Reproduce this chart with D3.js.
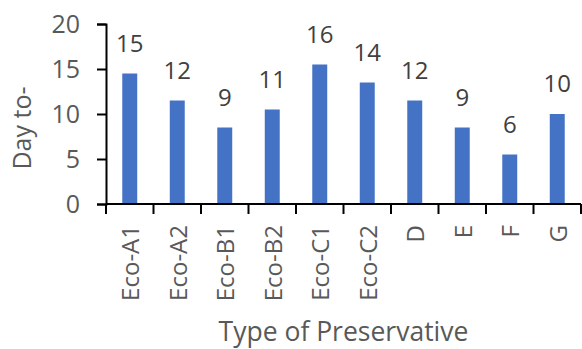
<!DOCTYPE html>
<html>
<head>
<meta charset="utf-8">
<script src="https://cdn.jsdelivr.net/npm/d3@7"></script>
<style>
  html, body { margin: 0; padding: 0; background: #fff; }
  svg { display: block; font-family: "Open Sans", sans-serif; }
</style>
</head>
<body>
<svg id="chart" width="582" height="349"></svg>
<script>
// Days per preservative type
const categories = ["Eco-A1", "Eco-A2", "Eco-B1", "Eco-B2", "Eco-C1", "Eco-C2", "D", "E", "F", "G"];
const days = [14.5, 11.5, 8.5, 10.5, 15.5, 13.5, 11.5, 8.5, 5.5, 10];
const yTicks = [0, 5, 10, 15, 20];
const xTitle = "Type of Preservative";
const yTitle = "Day to-";

const svg = d3.select("#chart");
const plot = { left: 106, right: 581, top: 24, bottom: 204 };

const x = d3.scaleBand().domain(categories).range([plot.left, plot.right]).padding(0);
const y = d3.scaleLinear().domain([0, 20]).range([plot.bottom, plot.top]);

const barFrac = 0.315;
const labelFmt = d3.format(".0f");

// bars
svg.append("g").selectAll("rect")
  .data(categories.map((c, i) => ({ c, v: days[i] })))
  .join("rect")
  .attr("x", d => x(d.c) + x.bandwidth() * (1 - barFrac) / 2)
  .attr("width", x.bandwidth() * barFrac)
  .attr("y", d => y(d.v))
  .attr("height", d => y(0) - y(d.v))
  .attr("fill", "#4472C4");

// value labels
svg.append("g").selectAll("text")
  .data(categories.map((c, i) => ({ c, v: days[i] })))
  .join("text")
  .attr("x", d => x(d.c) + x.bandwidth() / 2)
  .attr("y", d => y(d.v) - 22)
  .attr("text-anchor", "middle")
  .attr("font-size", 24)
  .attr("fill", "#404040")
  .text(d => labelFmt(d.v));

// y axis
const yAxis = svg.append("g")
  .attr("transform", `translate(${plot.left},0)`)
  .call(d3.axisLeft(y).tickValues(yTicks).tickSize(9).tickPadding(17));
yAxis.select(".domain").attr("stroke", "#000").attr("stroke-width", 2);
yAxis.selectAll(".tick line").attr("stroke", "#000").attr("stroke-width", 2);
yAxis.selectAll(".tick text").attr("font-size", 25).attr("fill", "#595959")
  .attr("font-family", "Open Sans, sans-serif");

// x axis with ticks at band boundaries
const xAxis = svg.append("g").attr("transform", `translate(0,${plot.bottom})`);
xAxis.append("line")
  .attr("x1", plot.left).attr("x2", plot.right)
  .attr("stroke", "#000").attr("stroke-width", 2);
const bounds = categories.map(c => x(c)).concat([x(categories[categories.length - 1]) + x.bandwidth()]);
xAxis.selectAll("line.tk").data(bounds).join("line")
  .attr("class", "tk")
  .attr("x1", d => d).attr("x2", d => d)
  .attr("y1", 0).attr("y2", 10)
  .attr("stroke", "#000").attr("stroke-width", 2);
xAxis.selectAll("text").data(categories).join("text")
  .attr("transform", d => `translate(${x(d) + x.bandwidth() / 2 + 1},21) rotate(-90)`)
  .attr("text-anchor", "end")
  .attr("dy", "0.35em")
  .attr("font-size", 24)
  .attr("fill", "#595959")
  .text(d => d);

// axis titles
svg.append("text")
  .attr("x", (plot.left + plot.right) / 2)
  .attr("y", 341)
  .attr("text-anchor", "middle")
  .attr("font-size", 26.5)
  .attr("fill", "#595959")
  .text(xTitle);

svg.append("text")
  .attr("transform", "translate(31,128) rotate(-90)")
  .attr("text-anchor", "middle")
  .attr("font-size", 25)
  .attr("fill", "#595959")
  .text(yTitle);
</script>
</body>
</html>
